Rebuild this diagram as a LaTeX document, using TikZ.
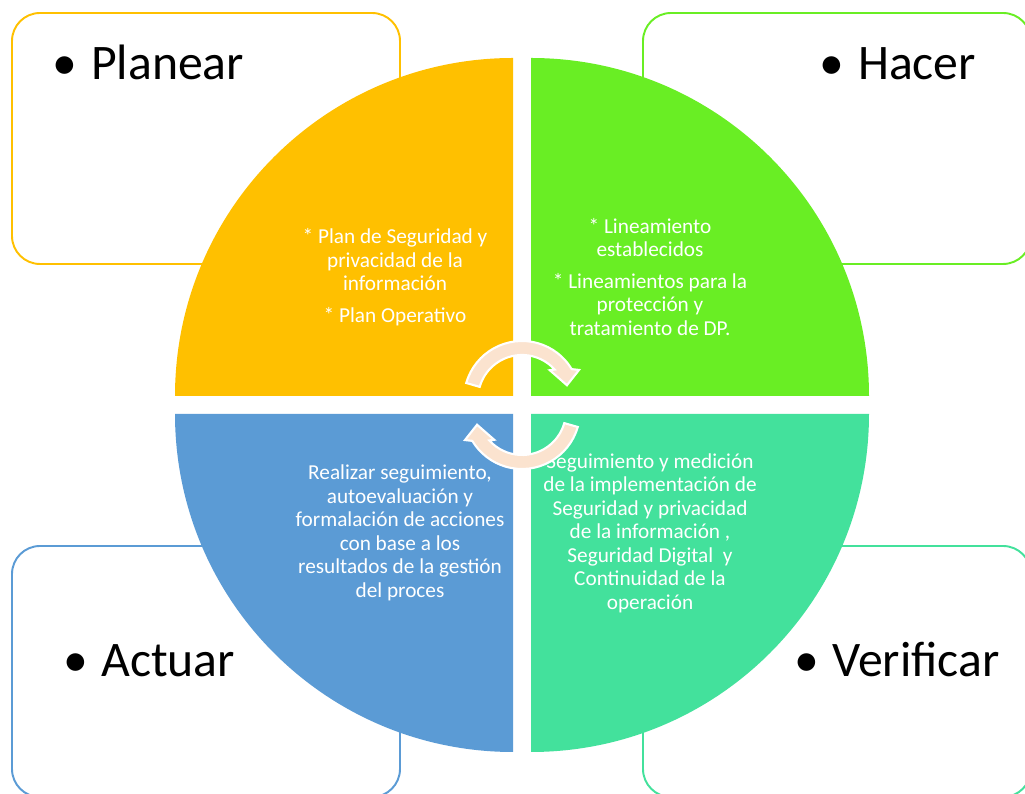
\documentclass[tikz,border=0pt]{standalone}
\usepackage{fontspec}
\setmainfont{Carlito}
\usepackage{tikz}

\definecolor{planc}{HTML}{FFC000}
\definecolor{hacerc}{HTML}{69EE24}
\definecolor{actuarc}{HTML}{5B9BD5}
\definecolor{verifc}{HTML}{43E19C}
\definecolor{arrowc}{HTML}{FBE3CF}

\tikzset{
  phasebox/.style={line width=1.1pt, rounded corners=0.56cm},
  phase/.style={inner sep=0pt, anchor=base west, font=\fontsize{28.3}{34}\selectfont},
  quadtxt/.style={inner sep=0pt, align=center, text=white, font=\fontsize{12.1}{13.4}\selectfont},
  pics/cyclearrow/.style={code={
    \path [fill=arrowc, draw=white, line width=1.2pt] (164:58) arc [start angle=164, end angle=31, radius=58] -- (27:64) -- (17:47) -- (46:40) -- (42:44) arc [start angle=42, end angle=164, radius=44] -- cycle;
  }}
}

\begin{document}
\begin{tikzpicture}[x=0.02cm, y=0.02cm]
    \clip (0,0) rectangle (1025,794);
    \draw [phasebox, planc] (12,530) rectangle (400,781); % Planear box
    \draw [phasebox, hacerc] (643,530) rectangle (1031,781); % Hacer box
    \draw [phasebox, actuarc] (12,-3) rectangle (400,248); % Actuar box
    \draw [phasebox, verifc] (643,-3) rectangle (1031,248); % Verificar box
    \fill [planc] (513,398) -- (175,398) arc [start angle=180, end angle=90, radius=338] -- cycle; % top left
    \fill [hacerc] (531,398) -- (531,736) arc [start angle=90, end angle=0, radius=338] -- cycle; % top right
    \fill [actuarc] (513,380) -- (513,42) arc [start angle=270, end angle=180, radius=338] -- cycle; % bottom left
    \fill [verifc] (531,380) -- (869,380) arc [start angle=0, end angle=-90, radius=338] -- cycle; % bottom right

    \node [phase] (planear) at (52,714) {\textbullet\hspace{8pt}Planear};
    \node [phase] (hacer) at (819,714) {\textbullet\hspace{8pt}Hacer};
    \node [phase] (actuar) at (63,117) {\textbullet\hspace{7.5pt}Actuar};
    \node [phase] (verificar) at (794,117) {\textbullet\hspace{7.5pt}Verificar};

    \node [quadtxt] (plantxt) at (395,517) {* Plan de Seguridad y\\privacidad de la\\información\\[4.5pt]* Plan Operativo};
    \node [quadtxt] (hacertxt) at (650,517) {* Lineamiento\\establecidos\\[4.5pt]* Lineamientos para la\\protección y\\tratamiento de DP.};
    \node [quadtxt] (actuartxt) at (400,261) {Realizar seguimiento,\\autoevaluación y\\formalación de acciones\\con base a los\\resultados de la gestión\\del proces};
    \node [quadtxt] (veriftxt) at (650,261) {Seguimiento y medición\\de la implementación de\\Seguridad y privacidad\\de la información ,\\Seguridad Digital~ y\\Continuidad de la\\operación};

    \pic (toparrow) at (522,395) {cyclearrow}; % cycle arrows
    \pic [rotate=180] (botarrow) at (522,383) {cyclearrow};
\end{tikzpicture}
\end{document}
